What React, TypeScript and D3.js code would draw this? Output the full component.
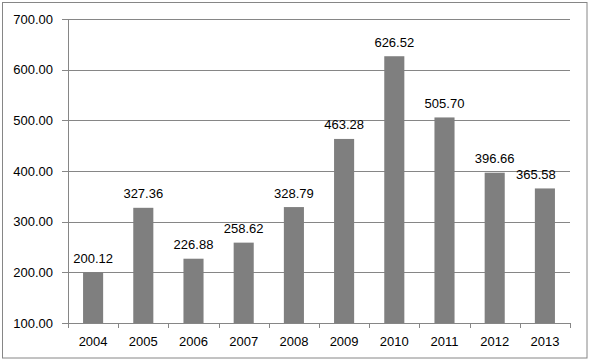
import React from "react";
import * as d3 from "d3";

const years = ["2004", "2005", "2006", "2007", "2008", "2009", "2010", "2011", "2012", "2013"];
const values = [200.12, 327.36, 226.88, 258.62, 328.79, 463.28, 626.52, 505.7, 396.66, 365.58];
const yTicks = [100, 200, 300, 400, 500, 600, 700];

const W = 589;
const H = 363;
const left = 68;
const right = 570;
const top = 19;
const bottom = 323;
const font = "'Liberation Sans', Arial, sans-serif";
const grey = "#868686";
const barColor = "#7f7f7f";
// manual label shift (the last label is nudged left in the original)
const labelDx = (i: number) => (i === years.length - 1 ? -9 : 0);

export default function App() {
  const x = d3.scaleBand<string>().domain(years).range([left, right]).paddingInner(0.6).paddingOuter(0.3);
  const y = d3.scaleLinear().domain([100, 700]).range([bottom, top]);
  const step = (right - left) / years.length;

  return (
    <svg width={W} height={H} style={{ position: "absolute", left: 0, top: 0 }} fontFamily={font}>
      <rect x={0} y={0} width={W} height={H} fill="#fff" />
      <rect x={2.5} y={2.5} width={584.5} height={355.5} fill="none" stroke={grey} strokeWidth={1} />
      {yTicks.map((t) => (
        <g key={t}>
          <line x1={left - 6} x2={right} y1={Math.round(y(t)) + 0.5} y2={Math.round(y(t)) + 0.5} stroke={grey} strokeWidth={1} />
          <text x={53} y={y(t) + 4.5} textAnchor="end" fontSize={13} fill="#000">
            {t.toFixed(2)}
          </text>
        </g>
      ))}
      {years.map((yr, i) => (
        <rect key={yr} x={x(yr)!} y={y(values[i])} width={x.bandwidth()} height={bottom - y(values[i])} fill={barColor} />
      ))}
      <line x1={left + 0.5} x2={left + 0.5} y1={top} y2={bottom} stroke={grey} strokeWidth={1} />
      {d3.range(years.length + 1).map((i) => (
        <line key={i} x1={Math.round(left + i * step) + 0.5} x2={Math.round(left + i * step) + 0.5} y1={bottom} y2={bottom + 5} stroke={grey} strokeWidth={1} />
      ))}
      {years.map((yr, i) => (
        <g key={yr}>
          <text x={x(yr)! + x.bandwidth() / 2} y={345.5} textAnchor="middle" fontSize={13} fill="#000">
            {yr}
          </text>
          <text x={x(yr)! + x.bandwidth() / 2 + labelDx(i)} y={y(values[i]) - 9.5} textAnchor="middle" fontSize={13} fill="#000">
            {values[i].toFixed(2)}
          </text>
        </g>
      ))}
    </svg>
  );
}
